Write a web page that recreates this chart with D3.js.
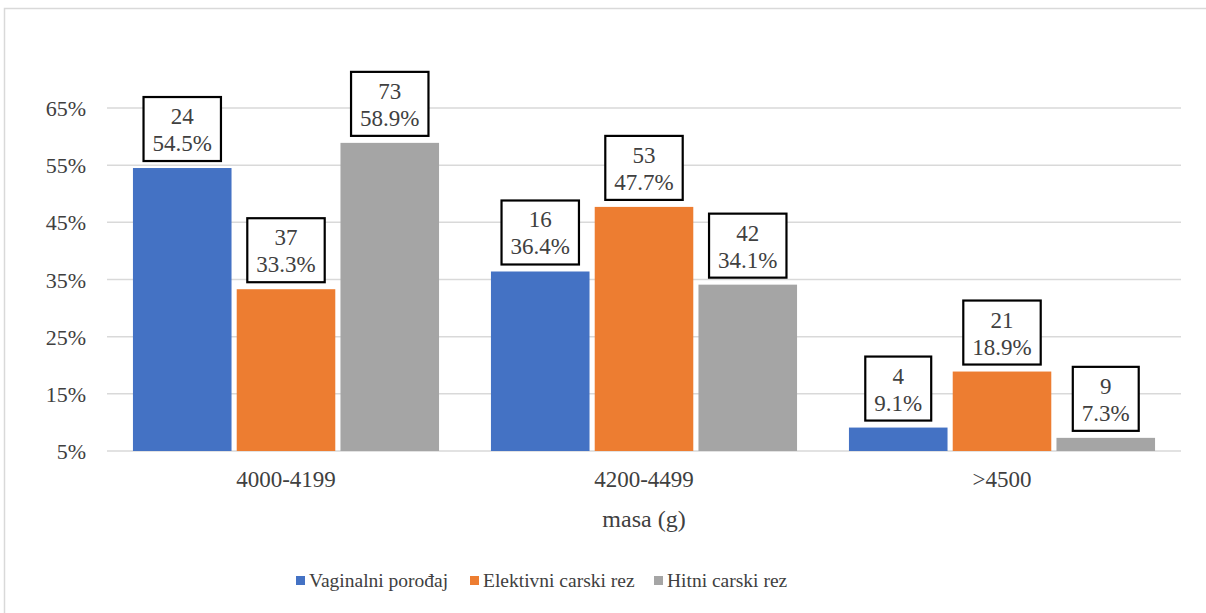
<!DOCTYPE html>
<html>
<head>
<meta charset="utf-8">
<style>
  body { margin: 0; background: #fff; }
</style>
</head>
<body>
<svg width="1206" height="613" font-family="'Liberation Serif', 'Times New Roman', 'Liberation Sans', Arial, sans-serif"></svg>
<script src="https://d3js.org/d3.v7.min.js"></script>
<script>

var categories = ["4000-4199", "4200-4499", ">4500"];
var seriesNames = ["Vaginalni porođaj", "Elektivni carski rez", "Hitni carski rez"];
var seriesColors = ["#4472c4", "#ed7d31", "#a5a5a5"];
var percents = [
  [54.5, 36.4, 9.1],
  [33.3, 47.7, 18.9],
  [58.9, 34.1, 7.3]
];
var counts = [
  [24, 16, 4],
  [37, 53, 21],
  [73, 42, 9]
];
var yTicks = [5, 15, 25, 35, 45, 55, 65];
var textColor = "#404040";

var svg = d3.select("svg");

// chart border
svg.append("rect")
    .attr("x", 4.5).attr("y", 8.5)
    .attr("width", 1210).attr("height", 620)
    .attr("fill", "none")
    .attr("stroke", "#d9d9d9")
    .attr("stroke-width", 1.5);

var x0 = d3.scaleBand()
    .domain(categories)
    .range([107, 1181])
    .paddingInner(0.145)
    .paddingOuter(0.0725);

var x1 = d3.scaleBand()
    .domain(d3.range(seriesNames.length))
    .range([0, x0.bandwidth()])
    .paddingInner(0.05);

var y = d3.scaleLinear()
    .domain([5, 65])
    .range([451, 108]);

// gridlines
svg.append("g")
  .selectAll("line")
  .data(yTicks)
  .enter().append("line")
    .attr("x1", 107).attr("x2", 1181)
    .attr("y1", function(d) { return y(d); })
    .attr("y2", function(d) { return y(d); })
    .attr("stroke", "#d9d9d9")
    .attr("stroke-width", 1.5);

// y tick labels
svg.append("g")
  .selectAll("text")
  .data(yTicks)
  .enter().append("text")
    .attr("x", 86)
    .attr("y", function(d) { return y(d) + 8; })
    .attr("text-anchor", "end")
    .attr("font-size", 22)
    .attr("fill", textColor)
    .text(function(d) { return d + "%"; });

// category labels
svg.append("g")
  .selectAll("text")
  .data(categories)
  .enter().append("text")
    .attr("x", function(d) { return x0(d) + x0.bandwidth() / 2; })
    .attr("y", 487)
    .attr("text-anchor", "middle")
    .attr("font-size", 23)
    .attr("fill", textColor)
    .text(function(d) { return d; });

svg.append("text")
    .attr("x", 644)
    .attr("y", 527)
    .attr("text-anchor", "middle")
    .attr("font-size", 24)
    .attr("fill", textColor)
    .text("masa (g)");

// bars
var groups = svg.append("g")
  .selectAll("g")
  .data(seriesNames)
  .enter().append("g");

groups.each(function(name, s) {
  var g = d3.select(this);
  categories.forEach(function(cat, c) {
    var bx = x0(cat) + x1(s);
    var v = percents[s][c];
    g.append("rect")
        .attr("x", bx)
        .attr("y", y(v))
        .attr("width", x1.bandwidth())
        .attr("height", y(5) - y(v))
        .attr("fill", seriesColors[s]);

    // data label box
    var cx = bx + x1.bandwidth() / 2;
    var bottom = y(v) - 7;
    var lab = g.append("g");
    var box = lab.append("rect");
    var t1 = lab.append("text")
        .attr("x", cx).attr("y", bottom - 37)
        .attr("text-anchor", "middle")
        .attr("font-size", 23)
        .attr("fill", textColor)
        .text(counts[s][c]);
    var t2 = lab.append("text")
        .attr("x", cx).attr("y", bottom - 10)
        .attr("text-anchor", "middle")
        .attr("font-size", 23)
        .attr("fill", textColor)
        .text(v.toFixed(1) + "%");
    var w = Math.max(t1.node().getBBox().width, t2.node().getBBox().width) + 18;
    box.attr("x", cx - w / 2)
        .attr("y", bottom - 64)
        .attr("width", w)
        .attr("height", 64)
        .attr("fill", "#fff")
        .attr("stroke", "#000")
        .attr("stroke-width", 2.2);
  });
});

// legend
var legendX = [296, 470, 654];
var legend = svg.append("g")
  .selectAll("g")
  .data(seriesNames)
  .enter().append("g")
    .attr("transform", function(d, i) { return "translate(" + legendX[i] + ",576)"; });

legend.append("rect")
    .attr("width", 9).attr("height", 9)
    .attr("fill", function(d, i) { return seriesColors[i]; });

legend.append("text")
    .attr("x", 13)
    .attr("y", 11)
    .attr("font-size", 19.5)
    .attr("fill", textColor)
    .text(function(d) { return d; });

</script>
</body>
</html>
